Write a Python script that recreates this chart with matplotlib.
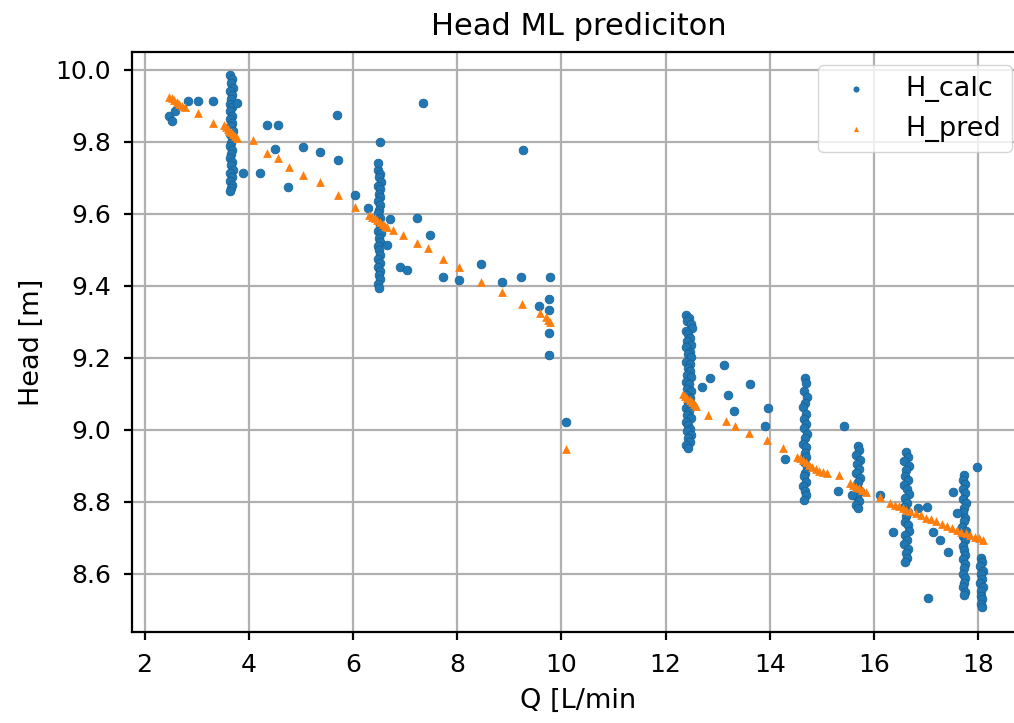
import numpy as np
import matplotlib
matplotlib.use("Agg")
import matplotlib.pyplot as plt
from matplotlib.ticker import StrMethodFormatter

# --- H_calc: dense vertical bands at the measured flow rates ---
band_a_q = [3.65, 3.68, 3.66, 3.69, 3.65, 3.67, 3.66, 3.64, 3.68, 3.65, 3.67, 3.64,
            3.68, 3.66, 3.69, 3.65, 3.67, 3.66, 3.64, 3.68, 3.66, 3.65, 3.67, 3.66,
            3.69, 3.64, 3.67, 3.65, 3.68, 3.66, 3.65]
band_a_h = [9.985, 9.974, 9.963, 9.950, 9.941, 9.929, 9.918, 9.906, 9.896, 9.885,
            9.871, 9.862, 9.852, 9.843, 9.829, 9.821, 9.811, 9.797, 9.788, 9.776,
            9.767, 9.756, 9.743, 9.734, 9.721, 9.712, 9.701, 9.691, 9.680, 9.672, 9.663]

band_b_q = [6.49, 6.52, 6.50, 6.53, 6.49, 6.51, 6.50, 6.52, 6.49, 6.51, 6.50, 6.48,
            6.52, 6.50, 6.51, 6.49, 6.53, 6.50, 6.51, 6.48, 6.50, 6.52, 6.49, 6.51,
            6.49, 6.52, 6.50, 6.51, 6.49, 6.50]
band_b_h = [9.722, 9.711, 9.701, 9.689, 9.678, 9.668, 9.655, 9.645, 9.634, 9.623,
            9.611, 9.601, 9.588, 9.578, 9.565, 9.553, 9.545, 9.532, 9.521, 9.511,
            9.498, 9.486, 9.475, 9.463, 9.451, 9.441, 9.430, 9.418, 9.405, 9.393]

band_c_q = [12.40, 12.45, 12.42, 12.48, 12.50, 12.39, 12.44, 12.47, 12.41, 12.49,
            12.40, 12.46, 12.43, 12.48, 12.39, 12.46, 12.43, 12.47, 12.41, 12.49,
            12.40, 12.45, 12.42, 12.48, 12.39, 12.46, 12.43, 12.49, 12.40, 12.45,
            12.42, 12.48, 12.39, 12.44, 12.47, 12.41, 12.49, 12.43, 12.46, 12.40, 12.44]
band_c_h = [9.318, 9.310, 9.301, 9.293, 9.282, 9.274, 9.266, 9.254, 9.247, 9.236,
            9.229, 9.217, 9.209, 9.201, 9.189, 9.182, 9.170, 9.163, 9.152, 9.145,
            9.133, 9.126, 9.114, 9.107, 9.096, 9.089, 9.077, 9.070, 9.059, 9.051,
            9.040, 9.033, 9.021, 9.014, 9.003, 8.995, 8.984, 8.977, 8.965, 8.958, 8.948]

band_d_q = [14.67, 14.70, 14.65, 14.71, 14.68, 14.64, 14.70, 14.66, 14.69, 14.65,
            14.71, 14.67, 14.64, 14.70, 14.67, 14.69, 14.65, 14.71, 14.68, 14.66,
            14.70, 14.64, 14.68, 14.70, 14.66]
band_d_h = [9.144, 9.129, 9.108, 9.091, 9.075, 9.062, 9.044, 9.031, 9.017, 9.005,
            8.989, 8.977, 8.961, 8.951, 8.935, 8.923, 8.909, 8.897, 8.881, 8.871,
            8.856, 8.844, 8.829, 8.819, 8.806]

band_e_q = [15.69, 15.72, 15.66, 15.74, 15.68, 15.71, 15.66, 15.73, 15.69, 15.67,
            15.74, 15.68, 15.71, 15.65, 15.70]
band_e_h = [8.956, 8.943, 8.931, 8.917, 8.906, 8.891, 8.880, 8.865, 8.854, 8.839,
            8.829, 8.814, 8.802, 8.791, 8.782]

band_f_q = [16.61, 16.65, 16.58, 16.67, 16.62, 16.59, 16.66, 16.57, 16.63, 16.67,
            16.60, 16.64, 16.58, 16.66, 16.61, 16.59, 16.65, 16.67, 16.60, 16.63,
            16.58, 16.66, 16.61, 16.64, 16.60]
band_f_h = [8.938, 8.924, 8.913, 8.899, 8.887, 8.872, 8.861, 8.846, 8.835, 8.821,
            8.811, 8.795, 8.785, 8.770, 8.759, 8.744, 8.734, 8.719, 8.708, 8.693,
            8.683, 8.668, 8.658, 8.644, 8.633]

band_g_q = [17.72, 17.70, 17.75, 17.71, 17.74, 17.70, 17.76, 17.72, 17.71, 17.75,
            17.73, 17.69, 17.76, 17.71, 17.74, 17.70, 17.72, 17.75, 17.71, 17.74,
            17.72, 17.70, 17.75, 17.73, 17.71, 17.74, 17.72]
band_g_h = [8.874, 8.860, 8.849, 8.834, 8.823, 8.808, 8.797, 8.782, 8.771, 8.756,
            8.745, 8.730, 8.719, 8.704, 8.693, 8.678, 8.667, 8.652, 8.641, 8.626,
            8.615, 8.600, 8.588, 8.573, 8.562, 8.549, 8.541]

band_h_q = [18.05, 18.08, 18.04, 18.09, 18.06, 18.08, 18.04, 18.09, 18.06, 18.05,
            18.08, 18.06, 18.07]
band_h_h = [8.643, 8.631, 8.621, 8.608, 8.598, 8.585, 8.575, 8.562, 8.552, 8.539,
            8.530, 8.517, 8.507]

# --- H_calc: isolated points between the bands ---
loose_q = [2.47, 2.53, 2.58, 2.83, 3.03, 3.31, 3.78, 3.89, 4.22, 4.35, 4.56, 4.50,
           4.75, 5.04, 5.37, 5.71, 5.69, 6.04, 6.29, 6.52, 6.48, 6.71, 7.23, 7.35,
           7.48, 6.65, 6.90, 7.04, 7.73, 8.04, 8.46, 8.86, 9.23, 9.78, 9.76, 9.57,
           9.76, 9.76, 9.76, 9.26, 10.09,
           12.70, 12.85, 13.12, 13.20, 13.62, 13.32, 13.97, 13.91, 14.29, 15.43,
           15.31, 15.58, 16.12, 16.37, 16.85, 17.02, 17.13, 17.27, 17.42, 17.52,
           17.59, 17.04, 17.98]
loose_h = [9.872, 9.857, 9.884, 9.914, 9.914, 9.914, 9.907, 9.713, 9.713, 9.846,
           9.846, 9.780, 9.674, 9.785, 9.771, 9.749, 9.874, 9.651, 9.615, 9.800,
           9.741, 9.585, 9.588, 9.907, 9.541, 9.513, 9.452, 9.443, 9.424, 9.416,
           9.460, 9.410, 9.424, 9.424, 9.363, 9.343, 9.332, 9.268, 9.207, 9.777,
           9.021,
           9.119, 9.144, 9.180, 9.096, 9.127, 9.052, 9.060, 9.010, 8.918, 9.010,
           8.830, 8.818, 8.818, 8.715, 8.782, 8.785, 8.715, 8.693, 8.660, 8.827,
           8.768, 8.532, 8.896]

# --- H_pred: ML prediction ---
pred_q = [2.47, 2.52, 2.57, 2.62, 2.66, 2.72, 2.78, 3.03, 3.31,
          3.52, 3.57, 3.60, 3.63, 3.66, 3.70, 3.74, 3.78,
          4.08, 4.35, 4.56, 4.77, 5.04, 5.37, 5.71, 6.04,
          6.31, 6.37, 6.42, 6.47, 6.52, 6.57, 6.62, 6.65,
          6.77, 6.96, 7.23, 7.44, 7.73, 8.04, 8.46, 8.86, 9.25, 9.59,
          9.70, 9.74, 9.78, 10.09,
          12.33, 12.38, 12.42, 12.46, 12.50, 12.54, 12.58,
          12.82, 13.16, 13.33, 13.60, 13.95, 14.25, 14.52,
          14.58, 14.64, 14.70, 14.76, 14.82, 14.88, 14.95, 15.02, 15.10, 15.33,
          15.54, 15.60, 15.66, 15.72, 15.78, 15.85, 16.12,
          16.31, 16.40, 16.48, 16.55, 16.62, 16.70, 16.80, 16.90, 17.00, 17.10,
          17.20, 17.30, 17.40, 17.50, 17.60, 17.68, 17.76, 17.85, 17.93, 18.01, 18.09]
pred_h = [9.925, 9.920, 9.915, 9.910, 9.905, 9.900, 9.895, 9.880, 9.852,
          9.846, 9.842, 9.836, 9.831, 9.826, 9.820, 9.815, 9.810,
          9.805, 9.768, 9.755, 9.730, 9.707, 9.688, 9.651, 9.618,
          9.596, 9.592, 9.587, 9.582, 9.577, 9.572, 9.567, 9.563,
          9.555, 9.541, 9.519, 9.505, 9.474, 9.452, 9.410, 9.382, 9.349, 9.324,
          9.312, 9.305, 9.300, 8.946,
          9.100, 9.094, 9.088, 9.083, 9.077, 9.071, 9.065,
          9.041, 9.024, 9.010, 8.991, 8.971, 8.949, 8.924,
          8.921, 8.915, 8.909, 8.903, 8.897, 8.891, 8.886, 8.882, 8.880, 8.874,
          8.852, 8.847, 8.842, 8.837, 8.832, 8.827, 8.813,
          8.797, 8.792, 8.787, 8.782, 8.778, 8.773, 8.768, 8.762, 8.756, 8.751,
          8.745, 8.739, 8.733, 8.728, 8.722, 8.717, 8.713, 8.708, 8.703, 8.698, 8.694]

q_calc = (band_a_q + band_b_q + band_c_q + band_d_q + band_e_q + band_f_q
          + band_g_q + band_h_q + loose_q)
h_calc = (band_a_h + band_b_h + band_c_h + band_d_h + band_e_h + band_f_h
          + band_g_h + band_h_h + loose_h)

fig = plt.figure(figsize=(10.14, 7.23), dpi=100)
ax = fig.add_axes([0.1302, 0.1259, 0.8807, 0.8026])

ax.scatter(q_calc, h_calc, s=40, marker='o', color='#1f77b4', edgecolors='#1a5f8e',
           linewidths=0.5, label='H_calc', zorder=3)
ax.scatter(pred_q, pred_h, s=40, marker='^', color='#ff7f0e', linewidths=0,
           label='H_pred', zorder=4)

ax.set_xlim(1.76, 18.9)
ax.set_ylim(8.438, 10.05)
ax.set_xticks(np.arange(2, 19, 2))
ax.set_yticks([8.6, 8.8, 9.0, 9.2, 9.4, 9.6, 9.8, 10.0])
ax.yaxis.set_major_formatter(StrMethodFormatter('{x:.1f}'))

ax.grid(True, color='#b0b0b0', linewidth=1.6, zorder=0)
ax.set_axisbelow(True)
for sp in ax.spines.values():
    sp.set_linewidth(1.6)
ax.tick_params(labelsize=18, length=6, width=1.6, pad=9)

ax.set_title('Head ML prediciton', fontsize=22, pad=12)
ax.set_xlabel('Q [L/min', fontsize=19.5, labelpad=8)
ax.set_ylabel('Head [m]', fontsize=19.5, labelpad=8)

ax.legend(loc='upper right', fontsize=19.5, scatterpoints=1, markerscale=0.6)

fig.savefig('out.png', dpi=100)
